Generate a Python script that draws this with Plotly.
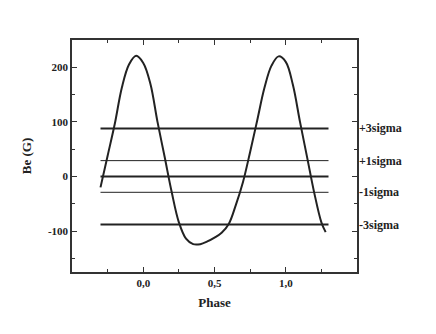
import plotly.graph_objects as go

# Be(G) curve
phase = [-0.30, -0.25, -0.20, -0.15, -0.10, -0.05, 0.00, 0.05, 0.10, 0.15,
         0.20, 0.25, 0.30, 0.35, 0.40, 0.45, 0.50, 0.55, 0.60, 0.65,
         0.70, 0.75, 0.80, 0.85, 0.90, 0.95, 1.00, 1.05, 1.10, 1.15,
         1.20, 1.25, 1.28]
be = [-20, 38, 96, 163, 205, 221, 208, 170, 100, 36,
      -29, -84, -114, -124, -124, -119, -112, -103, -87, -52,
      -10, 45, 103, 162, 203, 220, 210, 168, 100, 35,
      -30, -84, -102]

# sigma levels
level_names = ["+3sigma", "+1sigma", "0", "-1sigma", "-3sigma"]
level_values = [88, 29, 0, -29, -88]
level_widths = [2, 1, 2, 1, 2]
level_x = [-0.3, 1.3]

xtick_vals = [0.0, 0.5, 1.0]
xtick_text = ["0,0", "0,5", "1,0"]
ytick_vals = [-100, 0, 100, 200]
ytick_text = ["-100", "0", "100", "200"]
xminor = [-0.25, 0.25, 0.75, 1.25]
yminor = [-150, -50, 50, 150]

FONT = "Liberation Serif"
INK = "#222222"

fig = go.Figure()

for name, val, w in zip(level_names, level_values, level_widths):
    fig.add_trace(go.Scatter(
        x=level_x, y=[val, val], mode="lines",
        line=dict(color=INK, width=w), showlegend=False, hoverinfo="skip",
    ))
    if name != "0":
        fig.add_annotation(
            x=1.0, xref="paper", y=val, yref="y", xanchor="left",
            xshift=0, text=f"<b>{name}</b>", showarrow=False,
            font=dict(family=FONT, size=12, color=INK),
        )

fig.add_trace(go.Scatter(
    x=phase, y=be, mode="lines", line=dict(color=INK, width=2, shape="spline"),
    showlegend=False,
))

axis_common = dict(
    showline=True, linecolor="#333333", linewidth=1.5, mirror="ticks",
    ticks="inside", ticklen=5, tickwidth=1, tickcolor="#333333",
    showgrid=False, zeroline=False, automargin=False,
    tickfont=dict(family=FONT, size=11, color=INK),
)

fig.update_xaxes(
    range=[-0.5, 1.5], tickmode="array", tickvals=xtick_vals,
    ticktext=[f"<b>{t}</b>" for t in xtick_text],
    minor=dict(tickvals=xminor, ticks="inside", ticklen=3, tickcolor="#333333"),
    title=dict(text="<b>Phase</b>", font=dict(family=FONT, size=13, color=INK), standoff=10),
    **axis_common,
)
fig.update_yaxes(
    range=[-175, 250], tickmode="array", tickvals=ytick_vals,
    ticktext=[f"<b>{t}</b>" for t in ytick_text],
    minor=dict(tickvals=yminor, ticks="inside", ticklen=3, tickcolor="#333333"),
    title=dict(text="<b>Be (G)</b>", font=dict(family=FONT, size=13, color=INK), standoff=13),
    **axis_common,
)

fig.update_layout(
    width=436, height=334,
    margin=dict(l=64, r=87, t=32, b=70),
    paper_bgcolor="white", plot_bgcolor="white",
)

fig.write_html("out.html")
